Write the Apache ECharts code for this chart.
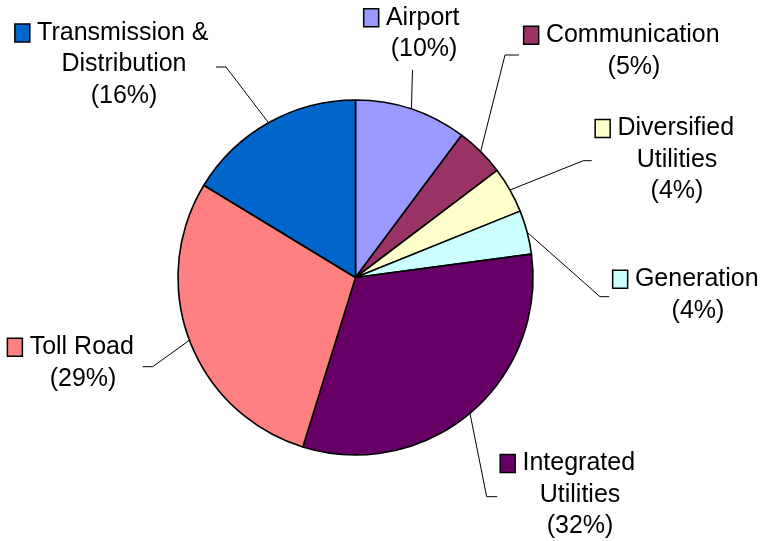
<!DOCTYPE html>
<html>
<head>
<meta charset="utf-8">
<script src="https://cdn.jsdelivr.net/npm/echarts@6/dist/echarts.min.js"></script>
<style>
html,body{margin:0;padding:0;background:#fff;}
#chart{width:769px;height:541px;}
</style>
</head>
<body>
<div id="chart"></div>
<script>
// ---- data ----
const categories = ['Airport', 'Communication', 'Diversified Utilities', 'Generation', 'Integrated Utilities', 'Toll Road', 'Transmission & Distribution'];
const labelLinesText = [['Airport'], ['Communication'], ['Diversified', 'Utilities'], ['Generation'], ['Integrated', 'Utilities'], ['Toll Road'], ['Transmission &', 'Distribution']];
const values = [10.2, 4.5, 4.2, 4.0, 31.9, 28.9, 16.3];
const colors = ['#9999FF', '#993366', '#FFFFCC', '#CCFFFF', '#660066', '#FF8080', '#0066CC'];

// ---- label layout (positions, not data) ----
const labelPos = [[424, 33.5], [634, 51], [677, 160], [698, 295], [580, 495], [83, 363], [124, 64.5]];
const leaderPts = [
  [[412.5, 70]],
  [[505, 55], [519, 55]],
  [[583.3, 160.7], [591.7, 160.7]],
  [[600, 296.7], [609.3, 296.7]],
  [[486.7, 496.7], [497.3, 496.7]],
  [[152.7, 366.7], [142.7, 366.7]],
  [[226, 67], [216, 67]]
];

const total = values.reduce((a, b) => a + b, 0);
const FONT = 'Liberation Sans, Arial, sans-serif';
const FS = 25;
const LH = 31.5;

const rich = {
  t: { fontFamily: FONT, fontSize: FS, color: '#000', lineHeight: LH },
  gap: { width: 8, height: 10, lineHeight: LH },
  sp: { width: 24, height: 10, lineHeight: LH }
};
colors.forEach((c, i) => {
  rich['sq' + i] = { width: 13.5, height: 13.5, backgroundColor: c, borderColor: '#000', borderWidth: 1.5, lineHeight: LH, padding: [3, 0, 0, 0] };
});

const chart = echarts.init(document.getElementById('chart'), null, { renderer: 'canvas' });
chart.setOption({
  backgroundColor: '#fff',
  animation: false,
  series: [{
    type: 'pie',
    center: [355.5, 277.5],
    radius: 177.5,
    startAngle: 90,
    clockwise: true,
    avoidLabelOverlap: false,
    minShowLabelAngle: 0,
    emphasis: { disabled: true },
    itemStyle: { borderColor: '#000', borderWidth: 1.6 },
    label: {
      show: true,
      position: 'outside',
      fontFamily: FONT,
      fontSize: FS,
      color: '#000',
      lineHeight: LH,
      align: 'center',
      formatter: function (p) {
        const i = p.dataIndex;
        const pct = Math.round(values[i] / total * 100 + 1e-9);
        const lines = labelLinesText[i].slice();
        lines.push('(' + pct + '%)');
        let s = '{sq' + i + '|}{gap|}{t|' + lines[0] + '}{sp|}';
        for (let k = 1; k < lines.length; k++) s += '\n{t|' + lines[k] + '}';
        return s;
      },
      rich: rich
    },
    labelLine: { show: true, length: 10, length2: 10, lineStyle: { color: '#000', width: 1 } },
    labelLayout: function (params) {
      const i = params.dataIndex;
      const start = params.labelLinePoints ? params.labelLinePoints[0] : null;
      const pts = start ? [start].concat(leaderPts[i]) : null;
      const o = {
        x: labelPos[i][0],
        y: labelPos[i][1],
        align: 'center',
        verticalAlign: 'middle'
      };
      if (pts) o.labelLinePoints = pts;
      return o;
    },
    data: categories.map((name, i) => ({ name: name, value: values[i], itemStyle: { color: colors[i] } }))
  }]
});
</script>
</body>
</html>
